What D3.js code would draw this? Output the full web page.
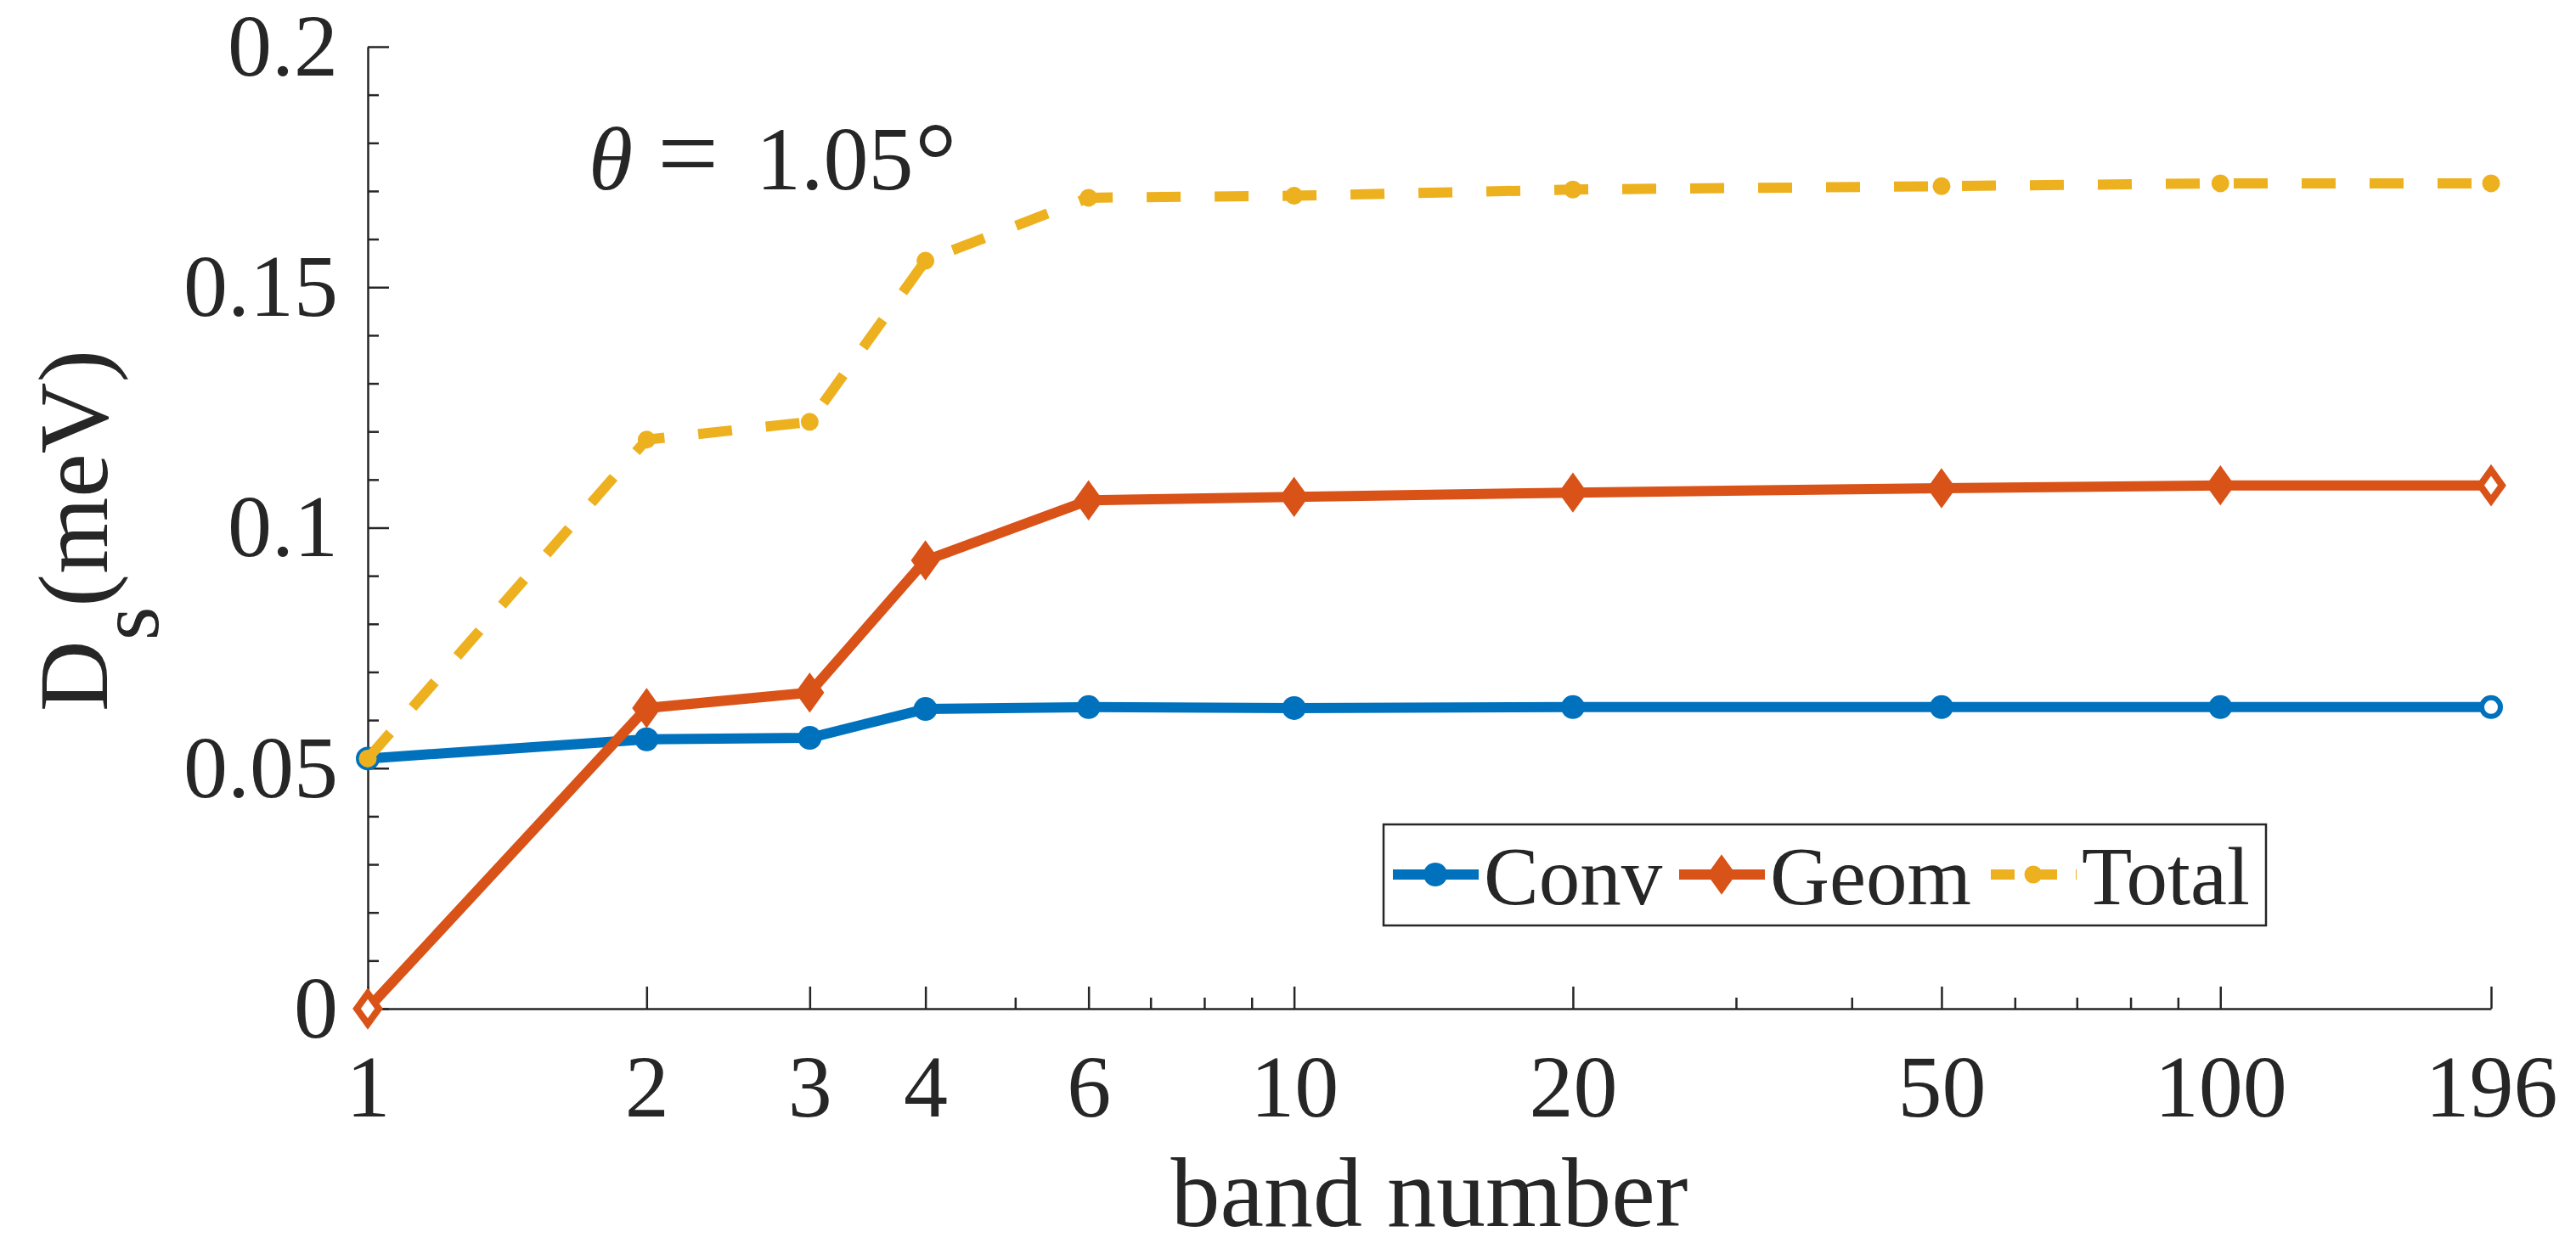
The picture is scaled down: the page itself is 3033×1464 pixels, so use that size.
<!DOCTYPE html>
<meta charset="utf-8">
<script src="https://d3js.org/d3.v7.min.js"></script>
<style>
  body { margin: 0; background: #fff; }
  text { font-family: "Liberation Serif", "Times New Roman", serif; fill: #262626; }
</style>
<body>
<svg id="chart" width="3033" height="1464"></svg>
<script>
// band counts and D_s values (meV)
const bands = [1, 2, 3, 4, 6, 10, 20, 50, 100, 196];
const conv  = [0.052, 0.056, 0.0563, 0.0623, 0.0627, 0.0625, 0.0627, 0.0627, 0.0627, 0.0627];
const geom  = [0, 0.0625, 0.0657, 0.0932, 0.1057, 0.1064, 0.1073, 0.1082, 0.1088, 0.1088];
const total = [0.052, 0.1183, 0.122, 0.1555, 0.1686, 0.169, 0.1703, 0.171, 0.1716, 0.1716];
const yTicks = [0, 0.05, 0.1, 0.15, 0.2];
const yTickLabels = ["0", "0.05", "0.1", "0.15", "0.2"];
const xMinor = [5, 7, 8, 9, 30, 40, 60, 70, 80, 90];
const seriesNames = ["Conv", "Geom", "Total"];

const svg = d3.select("#chart");
const axisColor = "#262626";

const x = d3.scaleLog().domain([1, 196]).range([433, 2933]);
const y = d3.scaleLinear().domain([0, 0.2]).range([1188, 55]);

// x axis (ticks point inward)
const gx = svg.append("g").attr("transform", "translate(0,1188)");
gx.call(d3.axisBottom(x).tickValues(bands).tickFormat(d3.format("d"))
  .tickSizeInner(-26).tickSizeOuter(0));
gx.append("g").call(d3.axisBottom(x).tickValues(xMinor).tickFormat("")
  .tickSizeInner(-13).tickSizeOuter(0))
  .select(".domain").remove();
gx.selectAll("text").attr("y", 127).attr("dy", null)
  .style("font-size", "104px").attr("fill", axisColor);

// y axis
const yMinor = d3.range(0, 0.2001, 0.01).filter(v => Math.abs(v / 0.05 - Math.round(v / 0.05)) > 1e-6);
const gy = svg.append("g").attr("transform", "translate(433,0)");
gy.call(d3.axisLeft(y).tickValues(yTicks).tickFormat((d, i) => yTickLabels[i])
  .tickSizeInner(-25).tickSizeOuter(0).tickPadding(35));
gy.append("g").call(d3.axisLeft(y).tickValues(yMinor).tickFormat("")
  .tickSizeInner(-13).tickSizeOuter(0))
  .select(".domain").remove();
gy.selectAll("text").style("font-size", "104px").attr("fill", axisColor);

svg.selectAll(".domain").attr("stroke", axisColor).attr("stroke-width", 2.5);
svg.selectAll(".tick line").attr("stroke", axisColor).attr("stroke-width", 2.5);

// axis labels
svg.append("text")
  .attr("x", (433 + 2933) / 2).attr("y", 1444)
  .attr("text-anchor", "middle")
  .style("font-size", "116px")
  .text("band number");

const ylab = svg.append("text")
  .attr("transform", "translate(126,625) rotate(-90)")
  .attr("text-anchor", "middle")
  .style("font-size", "116px");
ylab.append("tspan").text("D");
ylab.append("tspan").attr("dy", 60).style("font-size", "102px").text("s");
ylab.append("tspan").attr("dy", -60).text("(meV)");

// annotation
const ann = svg.append("g").style("font-size", "106px").attr("fill", "#000");
ann.append("text").attr("x", 693).attr("y", 223).style("font-style", "italic").text("θ");
ann.append("text").attr("x", 774).attr("y", 223).style("font-size", "128px").text("=");
ann.append("text").attr("x", 890).attr("y", 223).text("1.05");
ann.append("text").attr("x", 1077).attr("y", 230).style("font-size", "124px").text("°");

// series
const diamond = {
  draw(ctx, size) {
    const h = Math.sqrt(size), w = h * 0.72;
    ctx.moveTo(0, -h); ctx.lineTo(w, 0); ctx.lineTo(0, h); ctx.lineTo(-w, 0); ctx.closePath();
  }
};

const series = [
  { name: seriesNames[0], values: conv,  color: "#0072BD", dash: null,    marker: "circle",  r: 14, hollowEnds: true },
  { name: seriesNames[1], values: geom,  color: "#D95319", dash: null,    marker: "diamond", r: 22, hollowEnds: true },
  { name: seriesNames[2], values: total, color: "#EDB120", dash: "40,40", marker: "circle",  r: 10.5, hollowEnds: false }
];

const line = d3.line().x(d => x(d[0])).y(d => y(d[1]));

function drawMarker(g, m, s, hollow) {
  const fill = hollow ? "#fff" : s.color;
  if (s.marker === "circle") {
    g.append("circle").attr("cx", m[0]).attr("cy", m[1])
      .attr("r", hollow ? s.r - 3 : s.r)
      .attr("fill", fill).attr("stroke", s.color).attr("stroke-width", hollow ? 6 : 0);
  } else {
    g.append("path")
      .attr("transform", `translate(${m[0]},${m[1]})`)
      .attr("d", d3.symbol().type(diamond).size(hollow ? (s.r - 4) * (s.r - 4) : s.r * s.r)())
      .attr("fill", fill).attr("stroke", s.color).attr("stroke-width", hollow ? 8 : 2)
      .attr("stroke-linejoin", "miter");
  }
}

series.forEach(s => {
  const pts = bands.map((b, i) => [b, s.values[i]]);
  const g = svg.append("g");
  g.append("path")
    .attr("d", line(pts))
    .attr("fill", "none")
    .attr("stroke", s.color)
    .attr("stroke-width", 12)
    .attr("stroke-linejoin", "round")
    .attr("stroke-dasharray", s.dash);
  pts.forEach((p, i) => drawMarker(g, [x(p[0]), y(p[1])], s,
    s.hollowEnds && (i === 0 || i === pts.length - 1)));
});

// legend
const lg = svg.append("g");
lg.append("rect").attr("x", 1629).attr("y", 971).attr("width", 1039).attr("height", 119)
  .attr("fill", "#fff").attr("stroke", axisColor).attr("stroke-width", 2.5);
const legendX = [1640, 1977, 2344];
series.forEach((s, i) => {
  const x0 = legendX[i];
  lg.append("line").attr("x1", x0).attr("x2", x0 + 101).attr("y1", 1030).attr("y2", 1030)
    .attr("stroke", s.color).attr("stroke-width", 12)
    .attr("stroke-dasharray", s.dash ? "28,22" : null);
  drawMarker(lg, [x0 + 50, 1030], s, false);
  lg.append("text").attr("x", x0 + 107).attr("y", 1065)
    .style("font-size", "97px").attr("fill", "#000").text(s.name);
});
</script>
</body>
